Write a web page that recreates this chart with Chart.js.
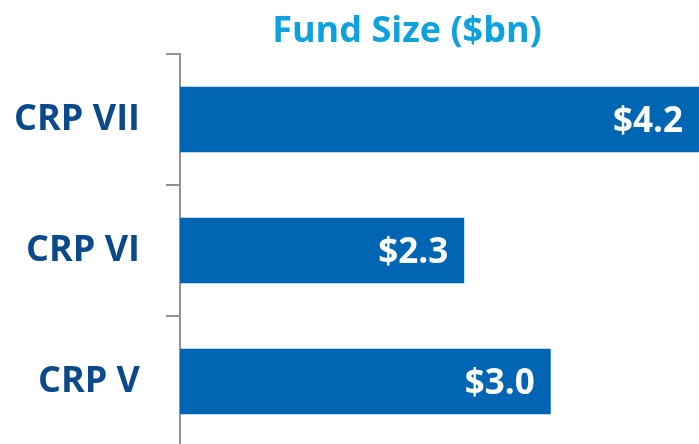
<!DOCTYPE html>
<html>
<head>
<meta charset="utf-8">
<script src="https://cdn.jsdelivr.net/npm/chart.js@4"></script>
<style>
  html, body { margin: 0; padding: 0; background: #fff; overflow: hidden; }
  #wrap { position: relative; width: 699px; height: 447px; }
</style>
</head>
<body>
<div id="wrap"><canvas id="bars"></canvas></div>
<script>
var funds = ['CRP VII', 'CRP VI', 'CRP V'];
var fundSize = [4.2, 2.3, 3.0];
var chartTitle = 'Fund Size ($bn)';

var FONT = '"Open Sans", "DejaVu Sans", sans-serif';

// title sits off-centre in the original, so draw it by hand
var titlePlugin = {
    id: 'titleText',
    afterDraw: function(chart) {
        var c = chart.ctx;
        c.save();
        c.font = '700 36px ' + FONT;
        c.fillStyle = '#0ea1de';
        c.textAlign = 'center';
        c.textBaseline = 'alphabetic';
        c.fillText(chartTitle, 407, 42);
        c.restore();
    }
};

var valueLabels = {
    id: 'valueLabels',
    afterDatasetsDraw: function(chart) {
        var c = chart.ctx;
        var meta = chart.getDatasetMeta(0);
        c.save();
        c.font = '700 35px ' + FONT;
        c.fillStyle = '#ffffff';
        c.textAlign = 'right';
        c.textBaseline = 'middle';
        meta.data.forEach(function(bar, i) {
            c.fillText('$' + fundSize[i].toFixed(1), bar.x - 16, bar.y + 3);
        });
        c.restore();
    }
};

var ctx = document.getElementById('bars').getContext('2d');
var myChart = new Chart(ctx, {
    type: 'bar',
    data: {
        labels: funds,
        datasets: [{
            data: fundSize,
            backgroundColor: '#0066b3',
            borderWidth: 0,
            barPercentage: 0.5,
            categoryPercentage: 1.0
        }]
    },
    options: {
        indexAxis: 'y',
        responsive: true,
        maintainAspectRatio: false,
        animation: false,
        layout: { padding: { top: 54, right: 0, bottom: 0, left: 0 } },
        plugins: {
            legend: { display: false },
            tooltip: { enabled: false }
        },
        scales: {
            x: {
                display: false,
                min: 0,
                max: 4.2
            },
            y: {
                afterFit: function(scale) {
                    scale.width = 180;
                    scale.paddingTop = 0;
                    scale.paddingBottom = 0;
                },
                border: { color: '#929292', width: 2 },
                grid: {
                    drawOnChartArea: false,
                    color: '#929292',
                    lineWidth: 2,
                    tickLength: 14
                },
                ticks: {
                    color: '#0b4a8a',
                    padding: 26,
                    font: { family: FONT, size: 36, weight: '700' }
                }
            }
        }
    },
    plugins: [titlePlugin, valueLabels]
});
</script>
</body>
</html>
